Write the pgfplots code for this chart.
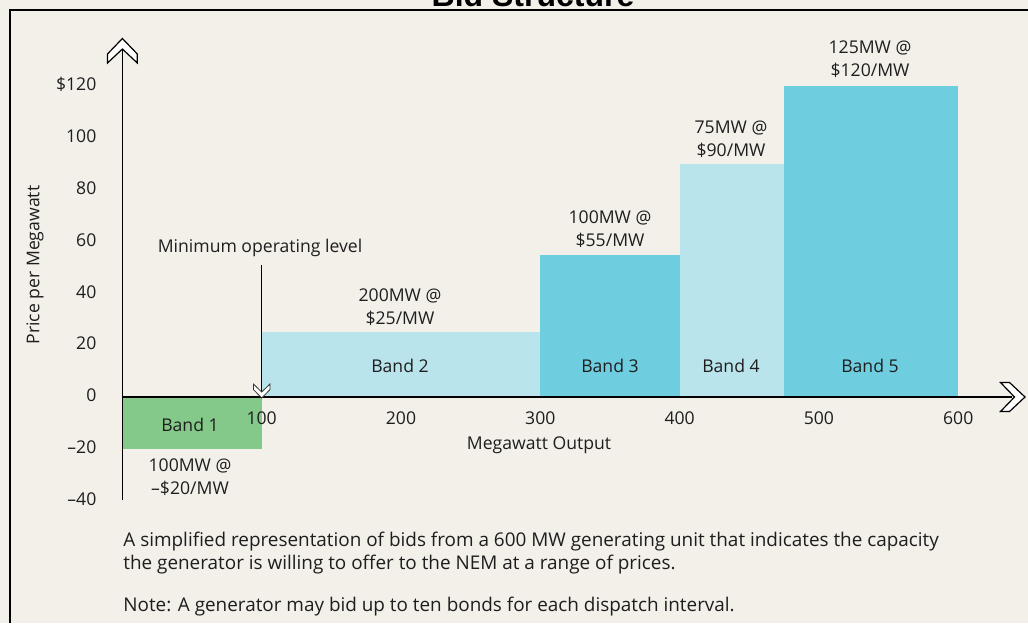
\documentclass[border=0pt]{standalone}
\usepackage{pgfplots}
\pgfplotsset{compat=1.18}
\usepackage{fontspec}
\setmainfont{Open Sans}
\newfontfamily\titlefont{Liberation Sans}
\definecolor{bg}{RGB}{243,240,233}
\definecolor{bandgreen}{RGB}{132,200,138}
\definecolor{bandlight}{RGB}{185,228,236}
\definecolor{banddark}{RGB}{111,205,224}
\definecolor{txt}{RGB}{30,30,30}
\newcommand{\lbl}{\fontsize{8.8}{11.5}\selectfont}
\begin{document}
\begin{tikzpicture}
% background (pixel scope: 1px = 0.5pt, y downwards)
\begin{scope}[x=0.5pt,y=-0.5pt,yshift=311.5pt]
  \fill[bg] (0,0) rectangle (1028,623);
\end{scope}
\begin{axis}[
  at={(0,0)}, anchor=south west, scale only axis,
  width=514pt, height=311.5pt,
  xmin=-87.87, xmax=650.11, ymin=-87.26, ymax=153.28,
  clip=false, axis lines=middle, axis line style={draw=none},
  axis on top,
  major tick length=0pt,
  hide obscured x ticks=false, hide obscured y ticks=false,
  xtick={100,200,300,400,500,600},
  xticklabels={100,200,300,400,500,600},
  ytick={-40,-20,0,20,40,60,80,100,120},
  yticklabels={{\textendash40},{\textendash20},0,20,40,60,80,100,{\$120}},
  tick label style={font=\lbl, text=txt},
  xticklabel style={anchor=base, yshift=-13.5pt},
  yticklabel style={anchor=east, xshift=-9.5pt, yshift=0.8pt},
]
\addplot[fill=bandgreen, draw=none] coordinates {(0,0) (0,-20) (100,-20) (100,0)} -- cycle;
\addplot[fill=bandlight, draw=none] coordinates {(100,0) (100,25) (300,25) (300,0)} -- cycle;
\addplot[fill=banddark, draw=none] coordinates {(300,0) (300,55) (400,55) (400,0)} -- cycle;
\addplot[fill=bandlight, draw=none] coordinates {(400,0) (400,90) (475,90) (475,0)} -- cycle;
\addplot[fill=banddark, draw=none] coordinates {(475,0) (475,120) (600,120) (600,0)} -- cycle;
\end{axis}
\begin{scope}[x=0.5pt,y=-0.5pt,yshift=311.5pt]
  % frame
  \draw[line width=1pt, black] (10,623) -- (10,10) -- (1028,10);
  % axes lines
  \draw[line width=0.8pt, black] (122.4,500) -- (122.4,50);
  \draw[line width=0.8pt, black] (122.4,397) -- (1012,397);
  % chevron arrow heads
  \filldraw[fill=white, draw=black, line width=0.6pt, line join=miter]
    (122.4,38.5) -- (137.3,54) -- (137.3,63) -- (122.4,49) -- (107.5,63) -- (107.5,54) -- cycle;
  \filldraw[fill=white, draw=black, line width=0.6pt, line join=miter]
    (1025,397) -- (1009.5,382.5) -- (1000.5,382.5) -- (1014.5,397) -- (1000.5,411.5) -- (1009.5,411.5) -- cycle;
  % minimum operating level arrow
  \draw[line width=0.7pt, black] (261.7,265) -- (261.7,392);
  \filldraw[fill=white, draw=black!80, line width=0.4pt]
    (261.7,398) -- (270,389.5) -- (270,384) -- (261.7,392) -- (253.4,384) -- (253.4,389.5) -- cycle;
  % labels
  \begin{scope}[every node/.style={font=\lbl, text=txt, align=center, inner sep=0pt}]
    \node at (260,248) {Minimum operating level};
    \node at (190,425) {Band 1};
    \node at (400,366) {Band 2};
    \node at (610,366) {Band 3};
    \node at (731,366) {Band 4};
    \node at (870,366) {Band 5};
    \node at (190,477.5) {100MW @\\\textendash\$20/MW};
    \node at (400,307.5) {200MW @\\\$25/MW};
    \node at (610,229) {100MW @\\\$55/MW};
    \node at (731,139) {75MW @\\\$90/MW};
    \node at (870,59.5) {125MW @\\\$120/MW};
    \node at (539,445) {Megawatt Output};
    \node[rotate=90] at (35,265) {Price per Megawatt};
  \end{scope}
  \begin{scope}[every node/.style={font=\fontsize{9.45}{12}\selectfont, text=txt, anchor=base west, inner sep=0pt}]
    \node at (123,546) {A simplified representation of bids from a 600 MW generating unit that indicates the capacity};
    \node at (123,569) {the generator is willing to offer to the NEM at a range of prices.};
    \node at (123,611) {Note: A generator may bid up to ten bonds for each dispatch interval.};
  \end{scope}
  \node[anchor=base, font=\titlefont\bfseries\fontsize{16}{19}\selectfont] at (533,6) {Bid Structure};
\end{scope}
\pgfresetboundingbox
\path (0,0) rectangle (514pt,311.5pt);
\end{tikzpicture}
\end{document}
